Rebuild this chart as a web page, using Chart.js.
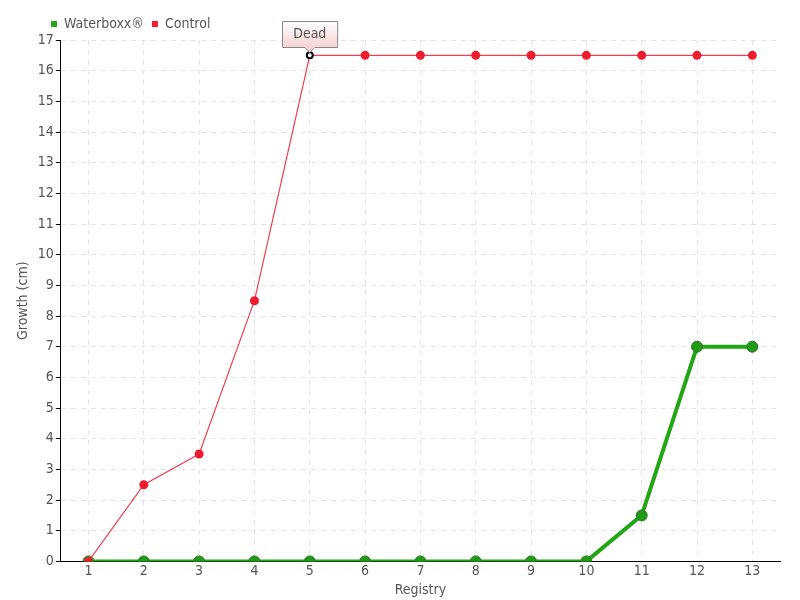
<!DOCTYPE html>
<html><head><meta charset="utf-8">
<script src="https://cdn.jsdelivr.net/npm/chart.js@4.4.0/dist/chart.umd.min.js"></script>
<style>html,body{margin:0;padding:0;background:#fff}#wrap{width:800px;height:600px}</style>
</head><body><div id="wrap"><canvas id="c" width="800" height="600"></canvas></div>
<script>
const registry = ['1','2','3','4','5','6','7','8','9','10','11','12','13'];
const waterboxx = [0,0,0,0,0,0,0,0,0,0,1.5,7,7];
const control = [0,2.5,3.5,8.5,16.5,16.5,16.5,16.5,16.5,16.5,16.5,16.5,16.5];
const controlNotes = [null,null,null,null,'Dead',null,null,null,null,null,null,null,null];
const FONT = "'Liberation Sans Narrow','DejaVu Sans Condensed','Roboto',sans-serif";

const notePlugin = {
  id:'note',
  afterLayout(chart){
    chart.legend.left += 28; chart.legend.right += 28;
    chart.legend.top += 1; chart.legend.bottom += 1;
  },
  afterDatasetsDraw(chart){
    const ctx = chart.ctx;
    const meta = chart.getDatasetMeta(1);
    controlNotes.forEach((t,i)=>{
      if(!t) return;
      const p = meta.data[i];
      ctx.save();
      ctx.font = "14px " + FONT;
      const w = ctx.measureText(t).width + 22, h = 26;
      const x0 = Math.round(p.x - w/2) + 0.5, y1 = Math.round(p.y - 8) + 0.5, y0 = y1 - h;
      const g = ctx.createLinearGradient(0,y0,0,y1);
      g.addColorStop(0,'#ffffff'); g.addColorStop(1,'#f8d2d2');
      ctx.beginPath();
      ctx.moveTo(x0,y0); ctx.lineTo(x0+w,y0); ctx.lineTo(x0+w,y1);
      ctx.lineTo(p.x+5,y1); ctx.lineTo(p.x,y1+5); ctx.lineTo(p.x-5,y1);
      ctx.lineTo(x0,y1); ctx.closePath();
      ctx.fillStyle = g; ctx.fill();
      ctx.strokeStyle = '#888'; ctx.lineWidth = 1; ctx.stroke();
      ctx.fillStyle = '#555'; ctx.textAlign='center'; ctx.textBaseline='middle';
      ctx.fillText(t, p.x, y0 + h/2);
      ctx.restore();
    });
  }
};

new Chart(document.getElementById('c'), {
  type:'line',
  data:{
    labels: registry,
    datasets:[
      {label:'Waterboxx®', data: waterboxx, borderColor:'#22a516', backgroundColor:'#22a516',
       borderWidth:4, pointRadius:5.5, pointBackgroundColor:'#1e9a14', pointBorderColor:'#2a7a22', pointBorderWidth:1,
       tension:0, order:2},
      {label:'Control', data: control, borderColor:'#f0404f', backgroundColor:'#ee1c2e',
       borderWidth:1.2, pointRadius: c => controlNotes[c.dataIndex] ? 3 : 4.5,
       pointBackgroundColor: c => controlNotes[c.dataIndex] ? '#ffffff' : '#ee1c2e',
       pointBorderColor: c => controlNotes[c.dataIndex] ? '#000000' : '#ee1c2e',
       pointBorderWidth: c => controlNotes[c.dataIndex] ? 2 : 0,
       tension:0, order:1}
    ]
  },
  options:{
    responsive:false, animation:false,
    layout:{padding:{left:15,right:20,top:8,bottom:1}},
    plugins:{
      tooltip:{enabled:false},
      legend:{position:'top', align:'start',
        labels:{boxWidth:6, boxHeight:6, padding:8, color:'#555', font:{family:FONT,size:14},
          generateLabels: chart => Chart.defaults.plugins.legend.labels.generateLabels(chart).map(l => Object.assign(l, {lineWidth:0, strokeStyle:'rgba(0,0,0,0)'})),
          sort:(a,b)=>a.datasetIndex-b.datasetIndex}}
    },
    scales:{
      x:{offset:true,
        grid:{color:'#e4e4e4', offset:false, drawTicks:false, lineWidth:1},
        border:{display:true, color:'#000', width:1, dash:[5,5]},
        ticks:{color:'#555', padding:2, font:{family:FONT,size:14}},
        title:{display:true, text:'Registry', color:'#555', padding:{top:0,bottom:0}, font:{family:FONT,size:14}}
      },
      y:{min:0, max:17,
        grid:{color:'#e4e4e4', tickColor:'#000', tickLength:5, tickBorderDash:[], lineWidth:1},
        border:{display:true, color:'#000', width:1, dash:[5,5]},
        ticks:{stepSize:1, color:'#555', padding:2, font:{family:FONT,size:14}},
        title:{display:true, text:'Growth (cm)', color:'#555', padding:{top:0,bottom:4}, font:{family:FONT,size:14}}
      }
    }
  },
  plugins:[notePlugin]
});
</script></body></html>
